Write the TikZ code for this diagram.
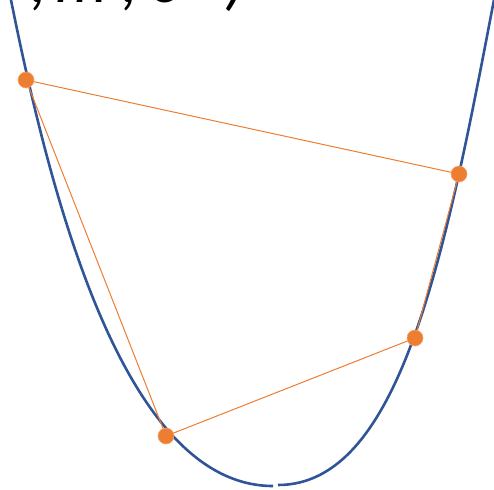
\documentclass[tikz,border=0pt]{standalone}
\usepackage{fontspec}
\setmainfont{Carlito}
\usepackage{xcolor}
\usetikzlibrary{backgrounds}
\definecolor{curveblue}{HTML}{2F5597}
\definecolor{pointorange}{HTML}{ED7D31}

\begin{document}
\begin{tikzpicture}[
    x=1pt, y=-1pt,
    ptnode/.style={circle, fill=pointorange, draw=pointorange!70!white, line width=0.6pt,
                   minimum size=16pt, inner sep=0pt},
    link/.style={draw=pointorange, line width=1pt},
    curve/.style={draw=curveblue, line width=2.6pt, line cap=butt}
]
\useasboundingbox (0,0) rectangle (494,489);
\clip (0,0) rectangle (494,489);

% title, only its lower edge shows
\node[anchor=base west, inner sep=0pt, font=\fontsize{66}{72}\selectfont\itshape] (title)
    at (30,3) {\makebox[25pt][l]{,}\makebox[66pt][l]{m}\makebox[28pt][l]{,}\makebox[76pt][l]{σ})};

% points on the curve
\node[ptnode] (pA) at (26,80) {};
\node[ptnode] (pB) at (459,174) {};
\node[ptnode] (pC) at (415,338) {};
\node[ptnode] (pD) at (166,436) {};

\begin{scope}[on background layer]
% left branch
\draw[curve] (273,486) .. controls (123,486) and (50,195) .. (10,-5);
% right branch
\draw[curve] (278,485) .. controls (400,485) and (445,257) .. (494.5,-3);

% chords
\draw[link] (pA.center) -- (pB.center);
\draw[link] (pA.center) -- (pD.center);
\draw[link] (pD.center) -- (pC.center);
\draw[link] (pC.center) -- (pB.center);
\end{scope}
\end{tikzpicture}
\end{document}
